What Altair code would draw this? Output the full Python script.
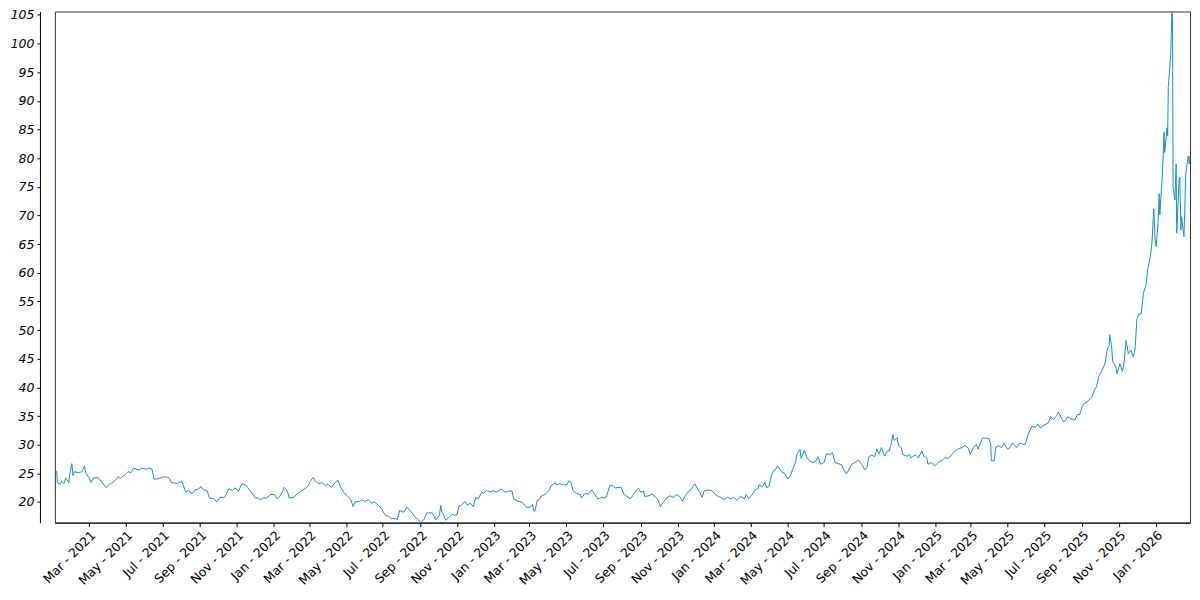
import altair as alt
import pandas as pd

# ---- data ----
dates_2021 = ["2021-01-04", "2021-01-07", "2021-01-08", "2021-01-13", "2021-01-15", "2021-01-19", "2021-01-22", "2021-01-27", "2021-01-29",
              "2021-02-01", "2021-02-03", "2021-02-05", "2021-02-12", "2021-02-18", "2021-02-22", "2021-02-24",
              "2021-03-01", "2021-03-05", "2021-03-09", "2021-03-15", "2021-03-19", "2021-03-23", "2021-03-26", "2021-03-30",
              "2021-04-05", "2021-04-08", "2021-04-14", "2021-04-19", "2021-04-23", "2021-04-30",
              "2021-05-05", "2021-05-10", "2021-05-14", "2021-05-20", "2021-05-24", "2021-05-28",
              "2021-06-04", "2021-06-09", "2021-06-14", "2021-06-17", "2021-06-22", "2021-06-30",
              "2021-07-06", "2021-07-12", "2021-07-16", "2021-07-26",
              "2021-08-02", "2021-08-09", "2021-08-13", "2021-08-19", "2021-08-24", "2021-08-30",
              "2021-09-03", "2021-09-07", "2021-09-13", "2021-09-17", "2021-09-24", "2021-09-29",
              "2021-10-04", "2021-10-11", "2021-10-13", "2021-10-19", "2021-10-25", "2021-10-29",
              "2021-11-04", "2021-11-10", "2021-11-16", "2021-11-19", "2021-11-24",
              "2021-12-02", "2021-12-07", "2021-12-10", "2021-12-15", "2021-12-21", "2021-12-27"]
values_2021 = [25.6, 25.3, 23.4, 23.1, 23.6, 23.2, 24.2, 23.4, 25.1,
               26.7, 24.6, 25.3, 25.1, 25.3, 26.3, 25.1,
               24.3, 23.4, 24.2, 24.3, 24.0, 23.4, 23.0, 22.5,
               23.2, 23.2, 23.8, 24.4, 24.2, 24.75,
               25.3, 25.1, 25.9, 25.7, 25.6, 25.9,
               25.7, 25.9, 25.7, 24.0, 24.0, 24.3,
               24.4, 24.2, 23.4, 23.2,
               23.6, 21.7, 22.1, 21.4, 22.1, 22.3,
               22.7, 22.1, 22.0, 20.7, 20.6, 20.0,
               20.8, 20.8, 20.95, 22.3, 22.0, 22.45,
               21.9, 23.2, 23.0, 22.55, 21.9,
               20.7, 20.7, 20.4, 20.7, 20.7, 21.3]

dates_2022 = ["2022-01-03", "2022-01-07", "2022-01-12", "2022-01-14", "2022-01-19", "2022-01-24", "2022-01-27",
              "2022-02-03", "2022-02-09", "2022-02-15", "2022-02-22", "2022-02-28",
              "2022-03-03", "2022-03-08", "2022-03-11", "2022-03-17", "2022-03-22", "2022-03-28",
              "2022-04-01", "2022-04-07", "2022-04-13", "2022-04-18", "2022-04-21", "2022-04-27",
              "2022-05-03", "2022-05-09", "2022-05-13", "2022-05-16", "2022-05-23", "2022-05-27",
              "2022-06-02", "2022-06-07", "2022-06-13", "2022-06-17", "2022-06-24", "2022-06-29",
              "2022-07-05", "2022-07-11", "2022-07-15", "2022-07-22", "2022-07-25", "2022-07-29",
              "2022-08-05", "2022-08-10", "2022-08-15", "2022-08-18", "2022-08-24", "2022-08-29",
              "2022-09-02", "2022-09-07", "2022-09-12", "2022-09-15", "2022-09-21", "2022-09-27",
              "2022-10-03", "2022-10-05", "2022-10-07", "2022-10-10", "2022-10-13", "2022-10-18", "2022-10-24", "2022-10-28",
              "2022-11-01", "2022-11-04", "2022-11-10", "2022-11-14", "2022-11-18", "2022-11-23", "2022-11-28",
              "2022-12-02", "2022-12-06", "2022-12-12", "2022-12-15", "2022-12-20", "2022-12-27", "2022-12-30"]
values_2022 = [21.3, 20.55, 21.1, 21.4, 22.55, 21.9, 20.7,
               20.8, 21.4, 21.9, 22.3, 22.85,
               23.6, 24.3, 23.6, 23.2, 23.4, 22.85,
               23.1, 22.55, 23.4, 23.8, 22.85, 21.7,
               21.1, 20.4, 19.2, 20.0, 20.1, 20.4,
               20.1, 20.4, 19.8, 20.0, 19.4, 18.8,
               17.7, 17.5, 17.1, 17.1, 16.9, 18.5,
               18.2, 19.1, 18.5, 18.2, 17.3, 16.9,
               16.4, 16.9, 18.1, 18.1, 18.1, 16.9,
               17.7, 19.4, 18.2, 17.7, 16.8, 17.3, 17.8, 17.7,
               17.8, 19.2, 19.6, 20.1, 19.4, 19.8, 19.2,
               20.8, 20.55, 21.7, 21.5, 22.0, 21.7, 22.0]

dates_2023 = ["2023-01-06", "2023-01-13", "2023-01-20", "2023-01-25", "2023-01-31",
              "2023-02-03", "2023-02-10", "2023-02-16", "2023-02-24",
              "2023-03-02", "2023-03-06", "2023-03-08", "2023-03-10", "2023-03-14", "2023-03-17", "2023-03-21", "2023-03-27",
              "2023-04-03", "2023-04-06", "2023-04-13", "2023-04-14", "2023-04-21", "2023-04-26",
              "2023-05-02", "2023-05-05", "2023-05-09", "2023-05-12", "2023-05-18", "2023-05-24", "2023-05-26",
              "2023-06-01", "2023-06-07", "2023-06-12", "2023-06-16", "2023-06-22", "2023-06-28",
              "2023-07-05", "2023-07-07", "2023-07-12", "2023-07-17", "2023-07-21", "2023-07-27", "2023-07-31",
              "2023-08-04", "2023-08-10", "2023-08-15", "2023-08-18", "2023-08-25", "2023-08-29",
              "2023-09-01", "2023-09-06", "2023-09-08", "2023-09-15", "2023-09-20", "2023-09-26", "2023-09-29",
              "2023-10-04", "2023-10-09", "2023-10-13", "2023-10-20", "2023-10-25", "2023-10-31",
              "2023-11-06", "2023-11-09", "2023-11-14", "2023-11-20", "2023-11-24", "2023-11-30",
              "2023-12-05", "2023-12-08", "2023-12-12", "2023-12-15", "2023-12-22", "2023-12-28"]
values_2023 = [21.7, 22.3, 21.7, 21.9, 21.9,
               20.55, 20.1, 20.0, 19.1,
               19.1, 19.6, 18.4, 18.4, 20.3, 20.4, 21.1, 21.3,
               22.1, 22.85, 23.4, 23.0, 23.2, 23.0,
               23.0, 23.7, 23.4, 22.0, 21.5, 21.3, 20.7,
               21.5, 21.4, 22.1, 21.5, 20.55, 20.8,
               20.7, 21.1, 22.85, 22.85, 22.45, 22.55, 22.55,
               21.4, 20.95, 20.55, 20.95, 22.1, 22.4,
               21.7, 21.9, 20.95, 21.1, 21.4, 20.8, 20.55,
               19.2, 20.0, 20.55, 21.1, 20.8, 21.3,
               20.8, 20.1, 21.1, 21.9, 22.3, 23.2,
               22.1, 21.7, 20.8, 21.9, 22.1, 22.0]

dates_2024 = ["2024-01-03", "2024-01-08", "2024-01-12", "2024-01-18", "2024-01-23", "2024-01-29",
              "2024-02-02", "2024-02-08", "2024-02-13", "2024-02-20", "2024-02-23", "2024-02-27",
              "2024-03-04", "2024-03-08", "2024-03-14", "2024-03-15", "2024-03-21", "2024-03-25", "2024-03-28",
              "2024-04-01", "2024-04-04", "2024-04-08", "2024-04-12", "2024-04-15", "2024-04-19", "2024-04-23", "2024-04-26",
              "2024-05-02", "2024-05-06", "2024-05-10", "2024-05-15", "2024-05-17", "2024-05-22", "2024-05-24", "2024-05-29",
              "2024-06-03", "2024-06-07", "2024-06-11", "2024-06-17", "2024-06-21", "2024-06-25",
              "2024-07-01", "2024-07-05", "2024-07-11", "2024-07-15", "2024-07-19", "2024-07-24", "2024-07-30",
              "2024-08-02", "2024-08-07", "2024-08-16", "2024-08-21", "2024-08-27",
              "2024-09-03", "2024-09-06", "2024-09-10", "2024-09-13", "2024-09-18", "2024-09-23", "2024-09-26", "2024-09-30",
              "2024-10-04", "2024-10-09", "2024-10-14", "2024-10-17", "2024-10-21", "2024-10-23", "2024-10-25", "2024-10-30",
              "2024-11-01", "2024-11-06", "2024-11-08", "2024-11-15", "2024-11-20", "2024-11-22", "2024-11-29",
              "2024-12-04", "2024-12-10", "2024-12-13", "2024-12-18", "2024-12-20", "2024-12-26", "2024-12-31"]
values_2024 = [21.3, 20.95, 20.8, 20.4, 20.8, 20.55,
               20.8, 20.3, 20.95, 20.55, 21.3, 20.55,
               21.3, 22.1, 22.45, 23.0, 22.7, 23.4, 22.45,
               22.85, 24.4, 25.4, 25.7, 26.3, 25.7, 25.1, 25.1,
               24.0, 24.6, 25.7, 27.05, 28.4, 29.2, 27.6, 29.0,
               27.7, 27.2, 26.9, 27.05, 27.9, 26.6,
               26.9, 28.4, 28.3, 28.6, 26.9, 26.7, 26.5,
               25.7, 24.9, 26.6, 26.9, 27.3,
               26.3, 25.6, 26.0, 27.9, 28.2, 27.9, 29.2, 28.4,
               29.5, 28.0, 28.9, 28.9, 30.6, 31.8, 30.75, 31.2,
               29.9, 29.5, 28.3, 28.0, 28.3, 27.7, 28.2,
               27.7, 28.9, 28.0, 27.7, 26.6, 26.9, 26.3]

dates_2025 = ["2025-01-06", "2025-01-13", "2025-01-17", "2025-01-23", "2025-01-28",
              "2025-02-03", "2025-02-07", "2025-02-14", "2025-02-19", "2025-02-25", "2025-02-28",
              "2025-03-05", "2025-03-10", "2025-03-13", "2025-03-18", "2025-03-21", "2025-03-27", "2025-03-31",
              "2025-04-03", "2025-04-04", "2025-04-09", "2025-04-11", "2025-04-16", "2025-04-21", "2025-04-25",
              "2025-05-01", "2025-05-05", "2025-05-09", "2025-05-16", "2025-05-21", "2025-05-27", "2025-05-30",
              "2025-06-04", "2025-06-10", "2025-06-16", "2025-06-20", "2025-06-24", "2025-06-30",
              "2025-07-07", "2025-07-11", "2025-07-16", "2025-07-22", "2025-07-24", "2025-07-29",
              "2025-08-01", "2025-08-05", "2025-08-08", "2025-08-14", "2025-08-20", "2025-08-25", "2025-08-28",
              "2025-09-02", "2025-09-05", "2025-09-10", "2025-09-15", "2025-09-18", "2025-09-22", "2025-09-25", "2025-09-29",
              "2025-10-03", "2025-10-07", "2025-10-10", "2025-10-13", "2025-10-16", "2025-10-17", "2025-10-20", "2025-10-22", "2025-10-27", "2025-10-29",
              "2025-11-03", "2025-11-07", "2025-11-10", "2025-11-13", "2025-11-17", "2025-11-21", "2025-11-25", "2025-11-28",
              "2025-12-01", "2025-12-04", "2025-12-08", "2025-12-12", "2025-12-16", "2025-12-19", "2025-12-23", "2025-12-26", "2025-12-29", "2025-12-31"]
values_2025 = [26.9, 27.3, 27.7, 27.6, 28.2,
               28.9, 29.2, 29.5, 29.9, 29.4, 28.3,
               29.5, 30.05, 29.2, 30.6, 31.2, 31.1, 31.1,
               30.05, 27.2, 27.2, 29.5, 29.8, 29.5, 30.2,
               29.2, 29.5, 30.3, 29.5, 30.3, 30.05, 30.05,
               31.8, 33.2, 33.0, 33.6, 32.9, 33.4,
               33.8, 34.9, 34.4, 35.2, 35.7, 34.65,
               34.0, 34.2, 34.9, 34.5, 34.3, 35.3, 35.2,
               36.8, 37.2, 37.5, 38.1, 38.4, 39.6, 40.1, 41.9,
               42.7, 43.6, 44.45, 46.7, 47.3, 49.2, 47.3, 44.45, 43.6, 42.4,
               44.15, 42.8, 44.45, 48.2, 45.9, 46.5, 45.3, 46.7,
               51.9, 52.8, 52.8, 56.5, 57.8, 60.6, 62.6, 65.2, 71.2, 66.0]

dates_2026 = ["2026-01-02", "2026-01-05", "2026-01-07", "2026-01-08", "2026-01-12", "2026-01-14", "2026-01-15", "2026-01-16",
              "2026-01-20", "2026-01-21", "2026-01-22", "2026-01-26", "2026-01-28", "2026-01-29", "2026-01-30",
              "2026-02-02", "2026-02-04", "2026-02-05", "2026-02-09", "2026-02-10", "2026-02-12", "2026-02-13",
              "2026-02-17", "2026-02-20", "2026-02-24", "2026-02-26", "2026-02-27"]
values_2026 = [64.6, 68.6, 73.8, 70.1, 76.7, 81.3, 84.6, 81.0,
               85.3, 83.9, 92.3, 98.0, 105.6, 105.2, 75.0,
               72.7, 79.0, 66.9, 76.1, 76.7, 67.5, 69.8,
               66.3, 77.3, 80.4, 79.0, 80.5]

y_ticks = [20, 25, 30, 35, 40, 45, 50, 55, 60, 65, 70, 75, 80, 85, 90, 95, 100, 105]
x_tick_months = [(2021, 3), (2021, 5), (2021, 7), (2021, 9), (2021, 11),
                 (2022, 1), (2022, 3), (2022, 5), (2022, 7), (2022, 9), (2022, 11),
                 (2023, 1), (2023, 3), (2023, 5), (2023, 7), (2023, 9), (2023, 11),
                 (2024, 1), (2024, 3), (2024, 5), (2024, 7), (2024, 9), (2024, 11),
                 (2025, 1), (2025, 3), (2025, 5), (2025, 7), (2025, 9), (2025, 11),
                 (2026, 1)]

dates = dates_2021 + dates_2022 + dates_2023 + dates_2024 + dates_2025 + dates_2026
values = values_2021 + values_2022 + values_2023 + values_2024 + values_2025 + values_2026

df = pd.DataFrame({"date": pd.to_datetime(dates), "value": values})

FONT = "DejaVu Sans"

chart = (
    alt.Chart(df)
    .mark_line(color="#0d8fe8", strokeWidth=1)
    .encode(
        x=alt.X(
            "date:T",
            scale=alt.Scale(nice=False),
            axis=alt.Axis(
                values=[alt.DateTime(year=y, month=m, date=1) for (y, m) in x_tick_months],
                format="%b - %Y",
                labelAngle=-45,
                title=None,
                grid=False,
                tickSize=4,
                labelFont=FONT,
                labelFontSize=12.5,
                labelColor="#000000",
                domainColor="#000000",
                tickColor="#000000",
                labelPadding=2,
                labelOverlap=False,
                labelFlush=False,
            ),
        ),
        y=alt.Y(
            "value:Q",
            scale=alt.Scale(zero=False, nice=False),
            axis=alt.Axis(
                values=y_ticks,
                title=None,
                grid=False,
                offset=15,
                tickSize=3,
                labelFont=FONT,
                labelFontSize=12.5,
                labelFontStyle="italic",
                labelColor="#000000",
                domainColor="#000000",
                tickColor="#000000",
                labelPadding=3,
                labelOverlap=False,
                labelFlush=False,
            ),
        ),
    )
    .properties(width=1137, height=512, padding={"left": 2, "top": 0, "right": 0, "bottom": 0})
    .configure_view(stroke="#333333", strokeWidth=1)
)

chart.save("out.html", embed_options={"renderer": "svg", "actions": False})
